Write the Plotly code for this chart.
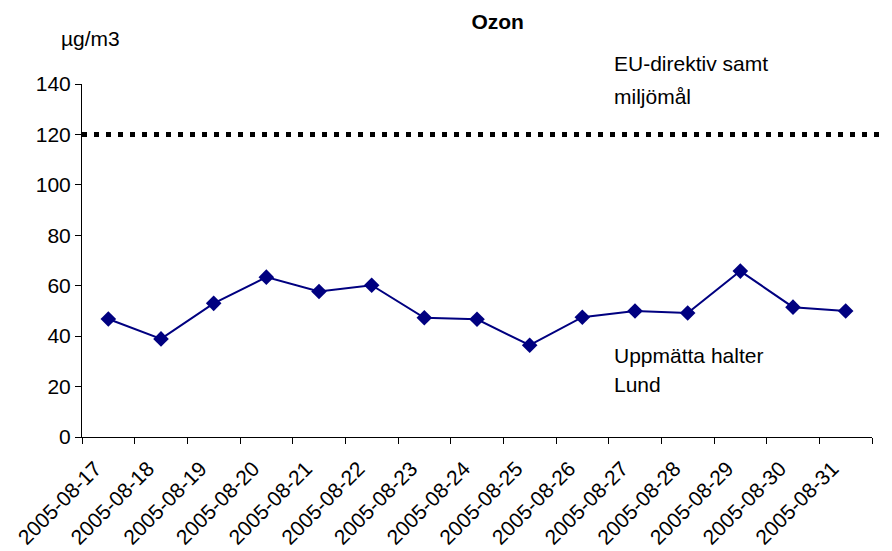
import plotly.graph_objects as go

# Daily ozone values, Lund (µg/m3)
dates = [
    "2005-08-17", "2005-08-18", "2005-08-19", "2005-08-20", "2005-08-21",
    "2005-08-22", "2005-08-23", "2005-08-24", "2005-08-25", "2005-08-26",
    "2005-08-27", "2005-08-28", "2005-08-29", "2005-08-30", "2005-08-31",
]
ozone = [46.8, 38.9, 53.0, 63.4, 57.7, 60.2, 47.3, 46.7, 36.4, 47.5,
         50.0, 49.2, 65.8, 51.5, 50.0]
limit_value = 120
y_ticks = [0, 20, 40, 60, 80, 100, 120, 140]

FONT = "Liberation Sans, Arial, sans-serif"

fig = go.Figure()

fig.add_trace(go.Scatter(
    x=dates,
    y=ozone,
    mode="lines+markers",
    line=dict(color="#000080", width=2),
    marker=dict(symbol="diamond", size=12, color="#000080"),
    showlegend=False,
))

# limit line, runs from the y axis out past the plot area
fig.add_shape(
    type="line", xref="paper", yref="y",
    x0=0, x1=1.03, y0=limit_value, y1=limit_value,
    line=dict(color="black", width=5, dash="5px,7px"),
)

# text labels (paper coords so they are not hidden outside the y range)
labels = [
    ("EU-direktiv samt", 1.057),
    ("miljömål", 0.966),
    ("Uppmätta halter", 0.232),
    ("Lund", 0.150),
]
for txt, ypos in labels:
    fig.add_annotation(text=txt, xref="paper", yref="paper",
                       x=0.671, y=ypos, xanchor="left", yanchor="middle",
                       showarrow=False)

fig.add_annotation(text="µg/m3", xref="paper", yref="paper",
                   x=-0.029, y=1.13, xanchor="left", yanchor="middle", showarrow=False)

fig.update_layout(
    width=892, height=551,
    margin=dict(l=74, r=28, t=76, b=122),
    paper_bgcolor="white", plot_bgcolor="white",
    font=dict(family=FONT, size=21, color="black"),
    title=dict(text="<b>Ozon</b>", x=0.549, xanchor="center", y=0.975, yanchor="middle",
               font=dict(size=21)),
    xaxis=dict(
        type="category", range=[-0.5, len(dates) - 0.5],
        tickangle=-45, tickson="boundaries",
        showline=True, linecolor="black", linewidth=1,
        ticks="outside", ticklen=6, tickcolor="black",
        ticklabelstandoff=10, ticklabelshift=-13, automargin=False,
        showgrid=False, zeroline=False,
    ),
    yaxis=dict(
        range=[0, 140], tickvals=y_ticks, automargin=False,
        showline=True, linecolor="black", linewidth=1,
        ticks="outside", ticklen=6, tickcolor="black",
        showgrid=False, zeroline=False,
    ),
)

fig.write_html("out.html")
